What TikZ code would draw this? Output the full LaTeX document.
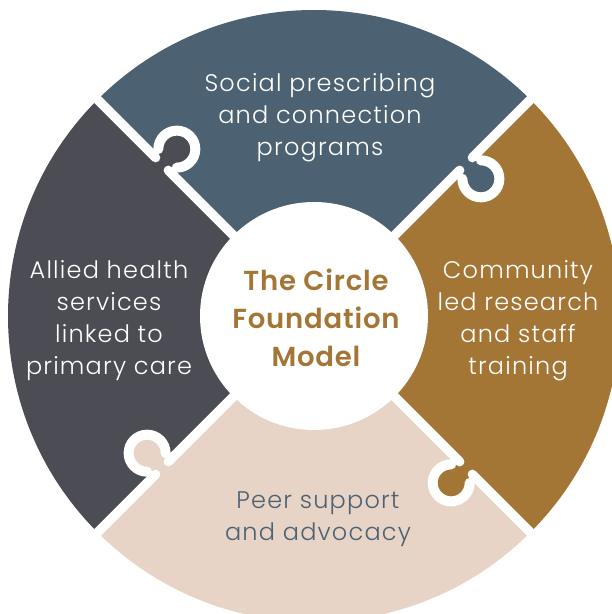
\documentclass[tikz,border=0pt]{standalone}
\usepackage{fontspec}
\setmainfont{Poppins Light}[BoldFont={Poppins SemiBold}, LetterSpace=5, BoldFeatures={LetterSpace=3}]
\definecolor{slate}{RGB}{76,98,114}
\definecolor{charcoal}{RGB}{75,76,84}
\definecolor{ochre}{RGB}{164,118,54}
\definecolor{sand}{RGB}{232,212,198}
\newcommand\Rout{306}
\newcommand\Rin{114}
% one puzzle joint on the diagonal at angle #1; #2 is the colour of the piece that owns the tab
% local frame: x runs outwards along the diagonal, the tab sits at y<0
\newcommand\puzzlejoint[2]{%
  \begin{scope}[shift={(C)}, rotate=#1]
    \fill[#2] (215,-21) circle[radius=14];
    \fill[#2] (205,-14) rectangle (225,6);
    \draw[gap] (\Rin-5,0) -- (206,0);
    \draw[gap] (224,0) -- (\Rout+12,0);
    \draw[gap, line width=10pt] (201.919,-7.919) arc[start angle=135, end angle=405, radius=18.5];
  \end{scope}}
\begin{document}
\begin{tikzpicture}[x=1pt, y=1pt,
    gap/.style={white, line width=9.5pt, line cap=round},
    label/.style={align=center, text=white, font=\fontsize{24}{32}\selectfont},
    title/.style={align=center, text=ochre, font=\bfseries\fontsize{27.5}{38}\selectfont}]
  \useasboundingbox (0,0) rectangle (612,614);
  \fill[white] (0,0) rectangle (612,614);
  \clip (0,0) rectangle (612,614);
  \coordinate (C) at (314,298);
  % the four quarter pieces
  \begin{scope}[shift={(C)}]
    \fill[slate]    (0,0) -- (45:\Rout)  arc[start angle=45,  end angle=135, radius=\Rout] -- cycle;
    \fill[charcoal] (0,0) -- (135:\Rout) arc[start angle=135, end angle=225, radius=\Rout] -- cycle;
    \fill[sand]     (0,0) -- (225:\Rout) arc[start angle=225, end angle=315, radius=\Rout] -- cycle;
    \fill[ochre]    (0,0) -- (315:\Rout) arc[start angle=315, end angle=405, radius=\Rout] -- cycle;
  \end{scope}
  % joints with their tabs
  \puzzlejoint{45}{slate}
  \puzzlejoint{135}{charcoal}
  \puzzlejoint{225}{sand}
  \puzzlejoint{315}{ochre}
  % centre disc
  \fill[white] (C) circle[radius=\Rin];
  % texts
  \node[title] (core) at (316,296) {The Circle\\Foundation\\Model};
  \node[label] (social) at (320,496) {Social prescribing\\and connection\\programs};
  \node[label] (allied) at (109,293) {Allied health\\services\\linked to\\primary care};
  \node[label] (research) at (518,293) {Community\\led research\\and staff\\training};
  \node[label, text=slate] (peer) at (318,95) {Peer support\\and advocacy};
\end{tikzpicture}
\end{document}
